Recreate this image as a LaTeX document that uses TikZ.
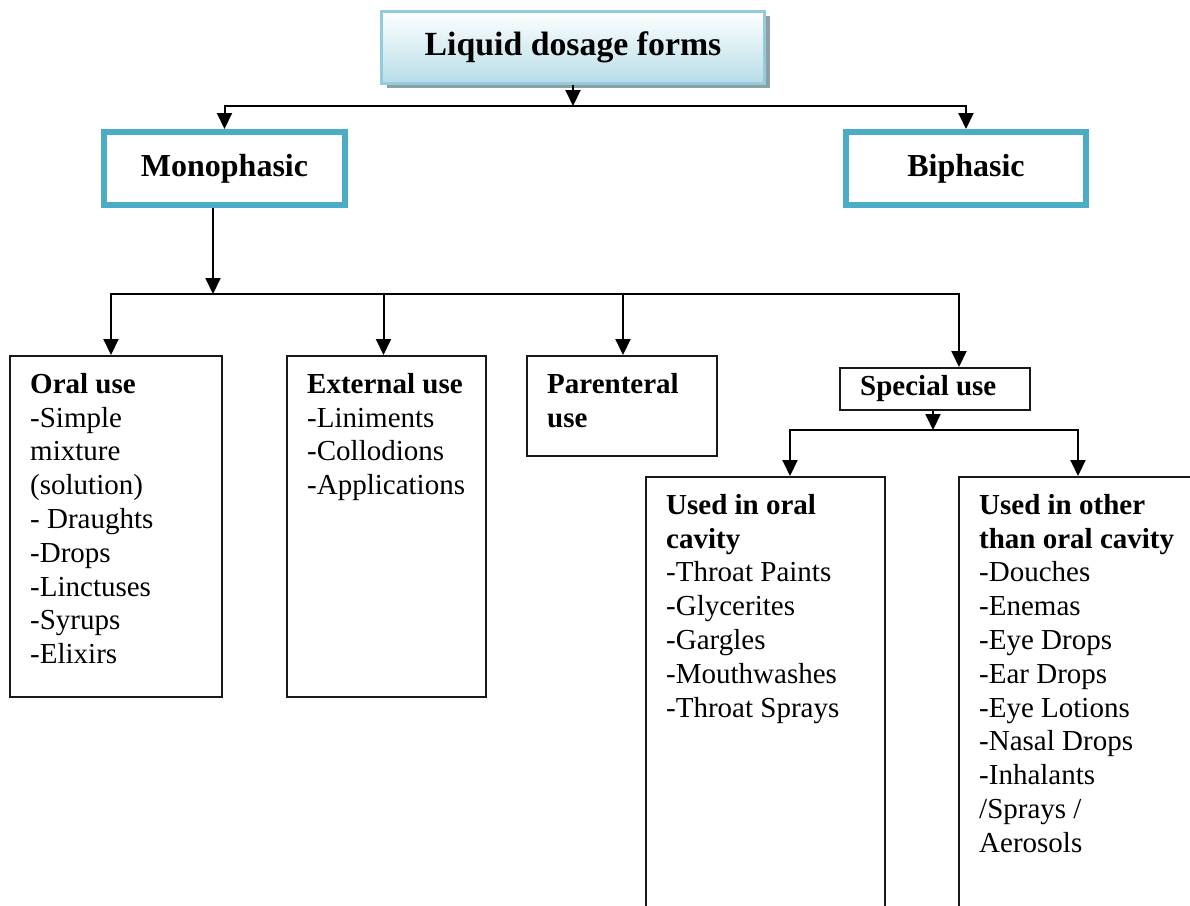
\documentclass[tikz,border=0pt]{standalone}
\usepackage{fontspec}
\setmainfont{Liberation Serif}
\usetikzlibrary{arrows.meta,shadows}
\definecolor{phaseblue}{HTML}{4BACC6}
\definecolor{paleblue}{HTML}{B7DDE8}
\definecolor{rimblue}{HTML}{93CDDD}
\definecolor{shadowgray}{HTML}{8E9FA8}
\tikzset{
  arr/.style={line width=2pt,-{Triangle[width=15pt,length=16pt]}},
  link/.style={line width=2pt,line cap=rect},
  phasebox/.style={draw=phaseblue,line width=6pt,minimum width=241pt,minimum height=73pt,font=\fontsize{32}{38}\selectfont\bfseries},
  usebox/.style={draw=black!90,line width=2pt,anchor=north west,inner sep=0pt},
  usetext/.style={anchor=north west,align=left,inner sep=0pt,font=\fontsize{29}{33.8}\selectfont}
}
\begin{document}
\begin{tikzpicture}[x=1pt,y=-1pt]
\useasboundingbox (0,0) rectangle (1190,905);
\clip (0,0) rectangle (1190,905);
% top of the tree
\node[draw=rimblue,line width=3pt,top color=white,bottom color=paleblue,minimum width=383pt,minimum height=72pt,
      drop shadow={shadow xshift=5pt,shadow yshift=-5pt,fill=shadowgray,opacity=1},
      font=\fontsize{33.8}{40}\selectfont\bfseries] (title) at (573,47) {Liquid dosage forms};
\node[phasebox] (mono) at (224.5,168.5) {Monophasic};
\node[phasebox,minimum width=240pt] (bi) at (966,168.5) {Biphasic};
\coordinate (b1) at (573,106);
\draw[link] (mono.north |- b1) -- (bi.north |- b1);
\draw[arr] (title.south) -- (b1);
\draw[arr] (mono.north |- b1) -- (mono.north);
\draw[arr] (bi.north |- b1) -- (bi.north);
% monophasic uses
\node[usebox,minimum width=212pt,minimum height=341pt] (oral) at (9,355) {};
\node[usebox,minimum width=199pt,minimum height=341pt] (ext) at (286,355) {};
\node[usebox,minimum width=190pt,minimum height=100pt] (par) at (526,355) {};
\node[usebox,minimum width=190pt,minimum height=42pt] (spec) at (839,367) {};
\node[usetext] (oraltxt) at ([shift={(21pt,-18pt)}]oral.north west)
  {\textbf{Oral use}\\-Simple\\mixture\\(solution)\\- Draughts\\-Drops\\-Linctuses\\-Syrups\\-Elixirs};
\node[usetext] (exttxt) at ([shift={(21pt,-18pt)}]ext.north west)
  {\textbf{External use}\\-Liniments\\-Collodions\\-Applications};
\node[usetext] (partxt) at ([shift={(21pt,-18pt)}]par.north west)
  {\textbf{Parenteral}\\\textbf{use}};
\node[usetext] (spectxt) at ([shift={(21pt,-8pt)}]spec.north west) {\textbf{Special use}};
\coordinate (b2) at (213,294);
\foreach \nm/\dx in {oral/-5,ext/-3,par/1,spec/24}
  \coordinate (\nm top) at ([xshift=\dx pt]\nm.north);
\draw[link] (oraltop |- b2) -- (spectop |- b2);
\draw[arr] (mono.south -| b2) -- (b2);
\foreach \nm in {oral,ext,par,spec}
  \draw[arr] (\nm top |- b2) -- (\nm top);
% special use
\node[usebox,minimum width=239pt,minimum height=450pt] (cav) at (645,476) {};
\node[usebox,minimum width=260pt,minimum height=450pt] (other) at (958,476) {};
\node[usetext] (cavtxt) at ([shift={(21pt,-18pt)}]cav.north west)
  {\textbf{Used in oral}\\\textbf{cavity}\\-Throat Paints\\-Glycerites\\-Gargles\\-Mouthwashes\\-Throat Sprays};
\node[usetext] (othertxt) at ([shift={(21pt,-18pt)}]other.north west)
  {\textbf{Used in other}\\\textbf{than oral cavity}\\-Douches\\-Enemas\\-Eye Drops\\-Ear Drops\\-Eye Lotions\\-Nasal Drops\\-Inhalants\\/Sprays /\\Aerosols};
\coordinate (b3) at (933,430);
\foreach \nm/\dx in {cav/24.5,other/-11}
  \coordinate (\nm top) at ([xshift=\dx pt]\nm.north);
\draw[link] (cavtop |- b3) -- (othertop |- b3);
\draw[arr] (spec.south -| b3) -- (b3);
\foreach \nm in {cav,other}
  \draw[arr] (\nm top |- b3) -- (\nm top);
\end{tikzpicture}
\end{document}
